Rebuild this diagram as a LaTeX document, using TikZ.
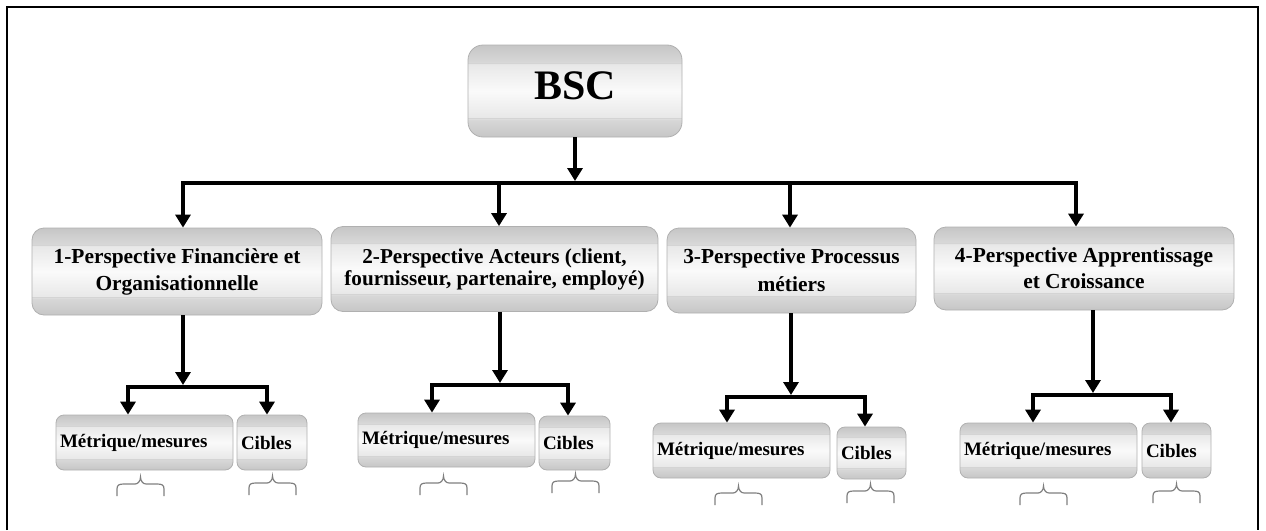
\documentclass[tikz,border=0pt]{standalone}
\usepackage{fontspec}
\setmainfont{Liberation Serif}
\usetikzlibrary{arrows.meta,calc}

% bevelled grey fill of the boxes
\definecolor{bvEdge}{HTML}{C6C6C6}
\definecolor{bvBand}{HTML}{D8D8D8}
\definecolor{bvInner}{HTML}{E8E8E8}
\definecolor{bvMid}{HTML}{FAFAFA}
\definecolor{bvLine}{HTML}{D4D4D4}
\definecolor{bvBorder}{HTML}{B0B0B0}
\definecolor{braceGray}{HTML}{7F7F7F}
\pgfdeclareverticalshading{bevel}{100bp}{color(0bp)=(bvEdge); color(25bp)=(bvEdge);
  color(34.5bp)=(bvBand); color(35.5bp)=(bvInner); color(50bp)=(bvMid);
  color(64.5bp)=(bvInner); color(65.5bp)=(bvBand); color(75bp)=(bvEdge); color(100bp)=(bvEdge)}

\tikzset{
  bands/.style={path picture={
    \draw[bvLine, line width=0.5pt]
      ($(path picture bounding box.north west)!0.2!(path picture bounding box.south west)$) --
      ($(path picture bounding box.north east)!0.2!(path picture bounding box.south east)$);
    \draw[bvLine, line width=0.5pt]
      ($(path picture bounding box.north west)!0.8!(path picture bounding box.south west)$) --
      ($(path picture bounding box.north east)!0.8!(path picture bounding box.south east)$);
  }},
  box/.style={draw=bvBorder, line width=0.8pt, shade, shading=bevel, bands, inner sep=0pt},
  bigbox/.style={box, rounded corners=12pt, align=center},
  subbox/.style={box, rounded corners=8pt, align=left, inner xsep=4pt,
    font=\bfseries\fontsize{19}{22}\selectfont},
  link/.style={line width=3.5pt, draw=black},
  arr/.style={link, -{Triangle[width=15pt,length=13pt]}},
  frame/.style={line width=2.5pt, draw=black},
  bracemark/.style={draw=braceGray, line width=1.2pt},
  topbrace/.pic={
    \draw[bracemark] (0,0) -- (0,-7) .. controls (0,-11) and (2,-12) .. (7,-12) -- (18,-12)
      .. controls (21,-12) and (23.5,-15) .. (23.5,-19)
      .. controls (23.5,-15) and (26,-12) .. (29,-12) -- (40,-12)
      .. controls (45,-12) and (47,-11) .. (47,-7) -- (47,0);
  }
}

\begin{document}
\begin{tikzpicture}[x=1pt, y=-1pt]
\useasboundingbox (0,0) rectangle (1266,530);

% open frame round the chart
\draw[frame] (7,530) -- (7,7) -- (1258,7) -- (1258,530);

% root
\node[bigbox, rounded corners=15pt, minimum width=214pt, minimum height=92pt,
      font=\bfseries\fontsize{42}{48}\selectfont, text depth=11pt] (bsc) at (575,91) {BSC};

% the four perspectives
\node[bigbox, minimum width=290pt, minimum height=87pt, font=\bfseries\fontsize{21.4}{27}\selectfont]
  (p1) at (177,271.5) {1-Perspective Financière et\\Organisationnelle};
\node[bigbox, minimum width=327pt, minimum height=85pt, font=\bfseries\fontsize{21.2}{22}\selectfont]
  (p2) at (494.5,269) {2-Perspective Acteurs (client,\\fournisseur, partenaire, employé)};
\node[bigbox, minimum width=249pt, minimum height=85pt, font=\bfseries\fontsize{21.4}{28}\selectfont]
  (p3) at (791.5,270.5) {3-Perspective Processus\\métiers};
\node[bigbox, minimum width=300pt, minimum height=83pt, font=\bfseries\fontsize{21.4}{26}\selectfont]
  (p4) at (1084,268.5) {4-Perspective Apprentissage\\et Croissance};

% metrics and targets under each perspective
\node[subbox, text width=169pt, minimum height=55pt] (m1) at (144.5,442.5) {Métrique/mesures};
\node[subbox, text width=62pt,  minimum height=55pt] (c1) at (272,442.5)   {Cibles};
\node[subbox, text width=169pt, minimum height=54pt] (m2) at (446.5,440)   {Métrique/mesures};
\node[subbox, text width=63pt,  minimum height=54pt] (c2) at (574.5,443)   {Cibles};
\node[subbox, text width=169pt, minimum height=55pt] (m3) at (741.5,450.5) {Métrique/mesures};
\node[subbox, text width=61pt,  minimum height=52pt] (c3) at (871.5,453)   {Cibles};
\node[subbox, text width=169pt, minimum height=55pt] (m4) at (1048.5,450.5) {Métrique/mesures};
\node[subbox, text width=61pt,  minimum height=55pt] (c4) at (1176.5,450.5) {Cibles};

% top distribution bar
\coordinate (bus) at (575,183);
\coordinate (d1) at (183,183);
\coordinate (d2) at (499,183);
\coordinate (d3) at (790,183);
\coordinate (d4) at (1076,183);
\draw[arr] (bsc.south) -- ([yshift=2pt]bus);
\draw[arr] (bus) -| (d1 |- p1.north);
\draw[arr] (bus) -| (d4 |- p4.north);
\draw[arr] (d2) -- (d2 |- p2.north);
\draw[arr] (d3) -- (d3 |- p3.north);

% branch junctions
\coordinate (j1) at (183,387);  \coordinate (a1) at (128,387);  \coordinate (b1) at (267,387);
\coordinate (j2) at (500,385);  \coordinate (a2) at (432,385);  \coordinate (b2) at (568,385);
\coordinate (j3) at (791,397);  \coordinate (a3) at (727,397);  \coordinate (b3) at (865,397);
\coordinate (j4) at (1093,395); \coordinate (a4) at (1033,395); \coordinate (b4) at (1171,395);

\foreach \i in {1,2,3,4}{
  \draw[arr] (p\i.south -| j\i) -- ([yshift=2pt]j\i);
  \draw[arr] (j\i) -| (a\i |- m\i.north);
  \draw[arr] (j\i) -| (b\i |- c\i.north);
}

% braces under the metric and target boxes
\pic at (117,496)  {topbrace};
\pic at (249,495)  {topbrace};
\pic at (420,495)  {topbrace};
\pic at (552,493)  {topbrace};
\pic at (715,505)  {topbrace};
\pic at (847,503)  {topbrace};
\pic at (1020,505) {topbrace};
\pic at (1153,503) {topbrace};
\end{tikzpicture}
\end{document}
